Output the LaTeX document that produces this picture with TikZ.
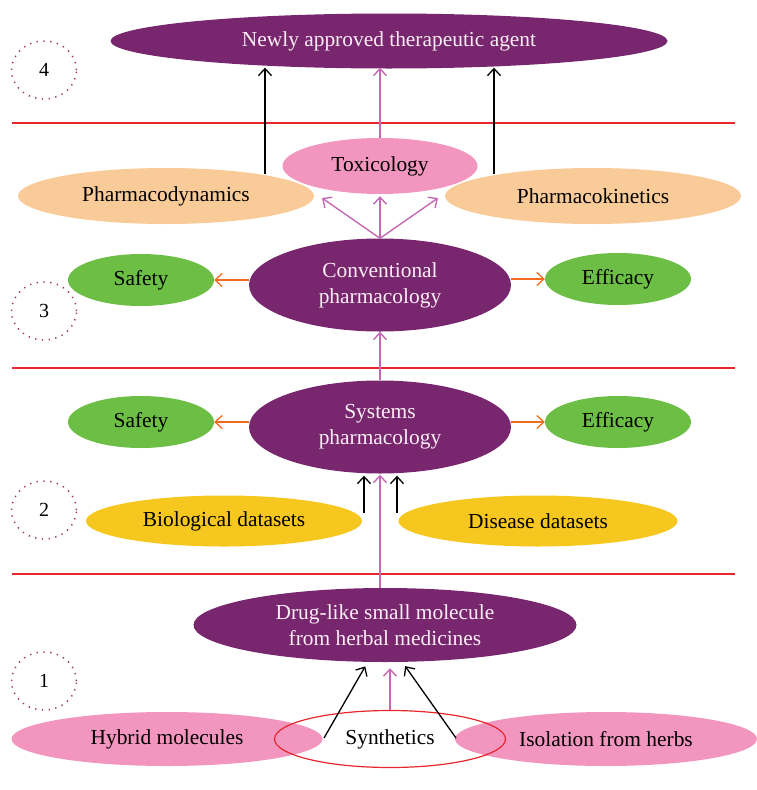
\documentclass[tikz,border=0pt]{standalone}
\usepackage{fontspec}
\setmainfont{Liberation Serif}
\usetikzlibrary{shapes.geometric,arrows.meta}

\definecolor{plum}{HTML}{78276F}
\definecolor{rosefill}{HTML}{F296C0}
\definecolor{peachfill}{HTML}{F9CB98}
\definecolor{leaf}{HTML}{6CBE45}
\definecolor{gold}{HTML}{F5C71F}
\definecolor{rule}{HTML}{E8262B}
\definecolor{dotring}{HTML}{9E3468}
\definecolor{orchid}{HTML}{C569B5}
\definecolor{tangerine}{HTML}{F26B21}
\definecolor{paletext}{HTML}{FAEDF4}

\tikzset{
  blob/.style={ellipse, inner sep=0pt, align=center,
    font=\fontsize{21.4}{26}\selectfont},
  hub/.style={blob, fill=plum, text=paletext},
  rosenode/.style={blob, fill=rosefill},
  peachnode/.style={blob, fill=peachfill, minimum width=296pt, minimum height=56pt},
  leafnode/.style={blob, fill=leaf, minimum width=146pt, minimum height=52pt},
  goldnode/.style={blob, fill=gold, minimum height=51pt},
  stagering/.style={ellipse, draw=dotring, line width=1.5pt,
    dash pattern=on 1.3pt off 5.5pt, minimum width=65pt, minimum height=58pt,
    inner sep=0pt, font=\fontsize{20}{22}\selectfont},
  tip/.style={-{Straight Barb[length=7pt,width=13pt]}},
  blackarrow/.style={tip, line width=1.3pt, black},
  orchidarrow/.style={tip, line width=1.4pt, orchid},
  orangearrow/.style={tip, line width=1.3pt, tangerine},
  divider/.style={rule, line width=1.2pt},
}

\begin{document}
\begin{tikzpicture}[x=1pt,y=-1pt]
\useasboundingbox (0,0) rectangle (757,790);

% stage dividers
\draw[divider] (12,123) -- (735,123);
\draw[divider] (12,368) -- (735,368);
\draw[divider] (12,574) -- (735,574);

% stage markers
\node[stagering] (s4) at (44,70) {4};
\node[stagering] (s3) at (44,311) {3};
\node[stagering] (s2) at (44,510) {2};
\node[stagering] (s1) at (44,681) {1};

% stage 4
\node[hub, minimum width=557pt, minimum height=55pt] (agent) at (389,41) {Newly approved therapeutic agent};

% stage 3
\node[peachnode] (pd) at (166,196) {Pharmacodynamics};
\node[peachnode] (pk) at (593,196) {Pharmacokinetics};
\node[rosenode, minimum width=195pt, minimum height=56pt] (tox) at (380,166) {Toxicology};
\node[hub, minimum width=262pt, minimum height=93pt] (conv) at (380,285) {Conventional\\pharmacology};
\node[leafnode] (safe3) at (141,280) {Safety};
\node[leafnode] (eff3) at (618,279) {Efficacy};

% stage 2
\node[hub, minimum width=262pt, minimum height=93pt] (sys) at (380,427) {Systems\\pharmacology};
\node[leafnode] (safe2) at (141,422) {Safety};
\node[leafnode] (eff2) at (618,422) {Efficacy};
\node[goldnode, minimum width=276pt] (bio) at (224,521) {Biological datasets};
\node[goldnode, minimum width=279pt] (dis) at (538,521) {Disease datasets};

% stage 1
\node[hub, minimum width=383pt, minimum height=74pt] (drug) at (385,625) {Drug-like small molecule\\from herbal medicines};
\node[rosenode, minimum width=311pt, minimum height=54pt] (hyb) at (167,739) {Hybrid molecules};
\node[rosenode, minimum width=302pt, minimum height=54pt] (iso) at (606,739) {Isolation from herbs};
\node[blob, draw=rule, line width=1.2pt, minimum width=231pt, minimum height=57pt] (syn) at (390,739) {Synthetics};

% connectors into the approved agent
\coordinate (pdA) at (265,174);
\coordinate (pkA) at (494,174);
\draw[blackarrow, shorten >=-1pt] (pdA) -- (pdA |- agent.south);
\draw[blackarrow, shorten >=-1pt] (pkA) -- (pkA |- agent.south);
\draw[orchidarrow, shorten >=-1pt] (tox.north) -- (tox.north |- agent.south);

% fan from conventional pharmacology
\coordinate (fanL) at (322,198);
\coordinate (fanR) at (438,198);
\draw[orchidarrow] (conv.north) -- (fanL);
\draw[orchidarrow, shorten >=2pt] (conv.north) -- (tox.south);
\draw[orchidarrow] (conv.north) -- (fanR);

\draw[orangearrow] (conv.west |- safe3.east) -- (safe3.east);
\draw[orangearrow] (conv.east |- eff3.west) -- (eff3.west);

% systems to conventional
\draw[orchidarrow] (sys.north) -- (conv.south);
\draw[orangearrow] (sys.west |- safe2.east) -- (safe2.east);
\draw[orangearrow] (sys.east |- eff2.west) -- (eff2.west);

% datasets and molecules into systems pharmacology
\coordinate (bioA) at (364,513);
\coordinate (disA) at (397,513);
\draw[blackarrow, shorten >=2pt] (bioA) -- (bioA |- sys.south);
\draw[blackarrow, shorten >=2pt] (disA) -- (disA |- sys.south);
\draw[orchidarrow, shorten >=1pt] (sys.south |- drug.north) -- (sys.south);

% sources of the small molecules
\coordinate (hybA) at (324,738);
\coordinate (isoA) at (456,738);
\draw[blackarrow, shorten >=5pt] (hybA) -- (drug.245);
\draw[blackarrow, shorten >=5pt] (isoA) -- (drug.295);
\draw[orchidarrow, shorten >=6pt] (syn.north) -- (syn.north |- drug.south);
\end{tikzpicture}
\end{document}
